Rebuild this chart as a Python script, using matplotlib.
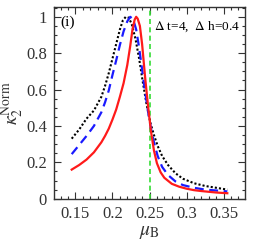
import matplotlib
matplotlib.use("Agg")
import matplotlib.pyplot as plt
from matplotlib.ticker import MultipleLocator

plt.rcParams['font.family'] = ['Liberation Serif', 'DejaVu Serif']
plt.rcParams['mathtext.fontset'] = 'stix'

# values
mu_red = [0.145, 0.155, 0.165, 0.175, 0.185, 0.19, 0.195, 0.2, 0.205, 0.21, 0.215, 0.22,
          0.224, 0.227, 0.23, 0.232, 0.234, 0.237, 0.24, 0.244, 0.248, 0.252, 0.256,
          0.26, 0.265, 0.27, 0.28, 0.29, 0.30, 0.31, 0.32, 0.33, 0.34, 0.355]
k_red = [0.16, 0.185, 0.215, 0.255, 0.31, 0.345, 0.385, 0.435, 0.49, 0.56, 0.635, 0.735,
         0.84, 0.93, 0.985, 1.0, 0.99, 0.95, 0.85, 0.67, 0.51, 0.37, 0.265,
         0.195, 0.145, 0.115, 0.082, 0.066, 0.055, 0.047, 0.042, 0.038, 0.034, 0.03]

mu_blue = [0.145, 0.155, 0.165, 0.175, 0.185, 0.19, 0.195, 0.2, 0.205, 0.21, 0.215, 0.22,
           0.224, 0.228, 0.232, 0.236, 0.24, 0.244, 0.248, 0.252, 0.256, 0.261,
           0.267, 0.275, 0.285, 0.295, 0.31, 0.325, 0.34, 0.355]
k_blue = [0.245, 0.295, 0.345, 0.40, 0.475, 0.53, 0.595, 0.68, 0.76, 0.845, 0.92, 0.975,
          1.0, 0.985, 0.93, 0.83, 0.71, 0.59, 0.48, 0.385, 0.31, 0.235,
          0.175, 0.13, 0.095, 0.075, 0.06, 0.05, 0.045, 0.04]

mu_black = [0.145, 0.155, 0.165, 0.175, 0.185, 0.19, 0.195, 0.2, 0.205, 0.21, 0.214,
            0.218, 0.222, 0.226, 0.231, 0.236, 0.241, 0.246, 0.251, 0.256, 0.261, 0.267,
            0.275, 0.285, 0.295, 0.31, 0.325, 0.34, 0.355]
k_black = [0.33, 0.38, 0.44, 0.485, 0.56, 0.62, 0.69, 0.77, 0.85, 0.93, 0.98,
           1.0, 0.995, 0.96, 0.88, 0.77, 0.64, 0.52, 0.42, 0.35, 0.29, 0.235,
           0.185, 0.14, 0.11, 0.085, 0.07, 0.06, 0.05]

mu_c = 0.25

fig = plt.figure(figsize=(2.58, 2.45), dpi=100)
ax = fig.add_axes([0.209, 0.189, 0.741, 0.781])

ax.axvline(mu_c, color='#33dd33', lw=1.2, ls=(0, (3, 2)))
ax.plot(mu_black, k_black, color='black', lw=1.5, ls=(0, (1, 1)))
ax.plot(mu_blue, k_blue, color='#1a1aff', lw=1.6, ls=(0, (4, 2.5)))
ax.plot(mu_red, k_red, color='#ff1a1a', lw=1.6)

ax.set_xlim(0.121, 0.379)
ax.set_ylim(0, 1.052)
ax.set_xticks([0.15, 0.2, 0.25, 0.3, 0.35])
ax.set_xticklabels(['0.15', '0.2', '0.25', '0.3', '0.35'])
ax.set_yticks([0, 0.2, 0.4, 0.6, 0.8, 1])
ax.set_yticklabels(['0', '0.2', '0.4', '0.6', '0.8', '1'])
ax.xaxis.set_minor_locator(MultipleLocator(0.01))
ax.yaxis.set_minor_locator(MultipleLocator(0.05))
ax.tick_params(which='both', direction='in', top=True, right=True, labelsize=12,
               width=0.8, pad=5, colors='#333333', labelcolor='#333333')
ax.tick_params(which='major', length=5)
ax.tick_params(which='minor', length=2.5)
for s in ax.spines.values():
    s.set_linewidth(1.0)
    s.set_color('#333333')

ax.set_xlabel(r'$\mu_{\rm B}$', fontsize=14, labelpad=2, color='#333333')
ax.set_ylabel(r'$\kappa_2^{\rm Norm}$', fontsize=14, labelpad=0, color='#333333')

ax.text(0.035, 0.955, '(i)', transform=ax.transAxes, fontsize=11, va='top', ha='left')
ax.text(0.975, 0.935, r'$\Delta$ t=4,  $\Delta$ h=0.4', transform=ax.transAxes,
        fontsize=9.5, va='top', ha='right')

fig.savefig('out.png', dpi=100)
